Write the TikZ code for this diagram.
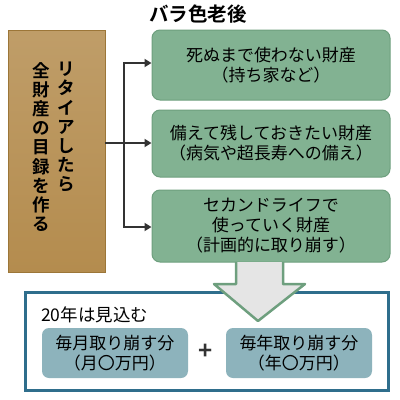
\documentclass[tikz,border=0pt]{standalone}
\usepackage{fontspec}
\setmainfont{Noto Sans CJK JP}[BoldFont={* Bold}]
\usetikzlibrary{arrows.meta}

\definecolor{gold}{HTML}{B48C4E}
\definecolor{golddark}{HTML}{9C7638}
\definecolor{sage}{HTML}{82B292}
\definecolor{sagedark}{HTML}{6E9F7E}
\definecolor{steel}{HTML}{2F6E8C}
\definecolor{teal}{HTML}{8DB3BC}
\definecolor{ink}{HTML}{333333}

\tikzset{
  greenbox/.style={draw=sagedark,fill=sage,rounded corners=8pt,line width=1pt,
    minimum width=238pt,minimum height=#1,align=center,font=\fontsize{17}{20}\selectfont},
  partbox/.style={fill=teal,rounded corners=7pt,minimum width=146pt,minimum height=50pt,
    align=center,font=\fontsize{17}{19.5}\selectfont},
  vtext/.style={align=center,inner sep=0pt,font=\bfseries\fontsize{17.5}{19.2}\selectfont},
}

\begin{document}
\begin{tikzpicture}[x=1pt,y=-1pt,>={Triangle[length=7pt,width=8pt]}]
  \useasboundingbox (0,0) rectangle (400,400);
  % title
  \node[font=\bfseries\fontsize{19.5}{22}\selectfont] (title) at (198,14) {バラ色老後};
  % left box
  \shade[top color=gold!85!white,bottom color=gold,draw=golddark,line width=0.8pt]
    (8,30) rectangle (105,272);
  \coordinate (lb) at (105,143);
  \node[vtext,anchor=north] (colA) at (66,62) {リ\\タ\\イ\\ア\\し\\た\\ら};
  \node[vtext,anchor=north] (colB) at (41,62) {全\\財\\産\\の\\目\\録\\を\\作\\る};
  % green boxes
  \node[greenbox=70pt] (g1) at (271,65) {死ぬまで使わない財産\\（持ち家など）};
  \node[greenbox=67pt] (g2) at (271,143.5) {備えて残しておきたい財産\\（病気や超長寿への備え）};
  \node[greenbox=72pt] (g3) at (271,226) {セカンドライフで\\使っていく財産\\（計画的に取り崩す）};
  % connectors
  \coordinate (sp) at (124,143);
  \draw[ink,line width=2.2pt] (lb) -- (sp);
  \draw[ink,line width=2.2pt,->] (124,63) -- (g1.west |- 0,63);
  \draw[ink,line width=2.2pt,->] (sp) -- (g2.west |- sp);
  \draw[ink,line width=2.2pt,->] (124,227) -- (g3.west |- 0,227);
  \draw[ink,line width=2.2pt,line cap=rect] (124,63) -- (124,227);
  % bottom box
  \draw[steel,line width=3pt,fill=white] (25,292) rectangle (388,390);
  \node[anchor=west,inner sep=0pt,font=\fontsize{17.5}{20}\selectfont] (yrs) at (41,315) {20年は見込む};
  \node[partbox] (p1) at (115,353) {毎月取り崩す分\\（月〇万円）};
  \node[partbox] (p2) at (299,353) {毎年取り崩す分\\（年〇万円）};
  \node[font=\bfseries\fontsize{24}{24}\selectfont,ink] (plus) at (206,352) {+};
  % big arrow
  \draw[sagedark,line width=2.5pt,fill=black!10,line join=round]
    (236,262) -- (236,284) -- (214,284) -- (258,321) -- (305,284) -- (283,284) -- (283,262);
\end{tikzpicture}
\end{document}
